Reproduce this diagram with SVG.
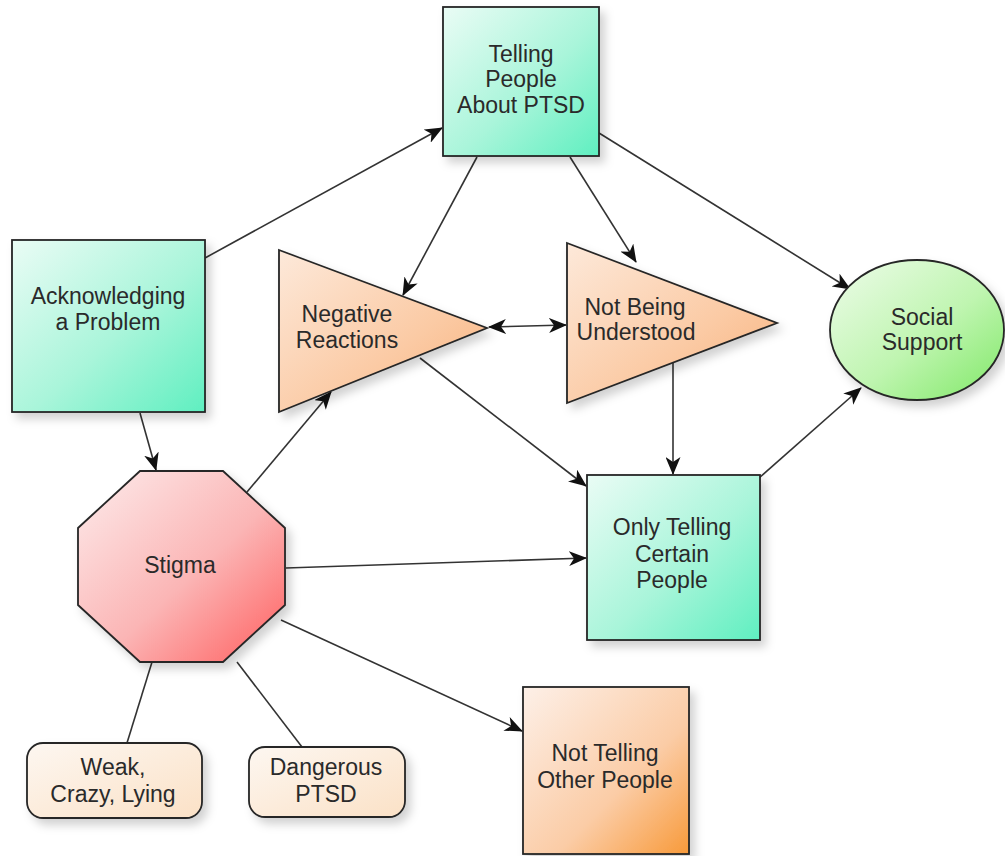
<svg xmlns="http://www.w3.org/2000/svg" width="1005" height="856" viewBox="0 0 1005 856">
  <style>
    .shape { stroke: #262626; stroke-width: 1.8; filter: url(#shadow); }
    .label { font-family: "Liberation Sans", Arial, sans-serif; font-size: 23px; fill: #2a2a2a; text-anchor: middle; }
    .edge { stroke: #333333; stroke-width: 1.6; fill: none; }
    .arrow { marker-end: url(#head); }
    .both { marker-start: url(#headStart); marker-end: url(#head); }
  </style>
  <defs>
    <filter id="shadow" x="-20%" y="-20%" width="150%" height="150%">
      <feDropShadow dx="5" dy="6" stdDeviation="5" flood-color="#000000" flood-opacity="0.18"/>
    </filter>
    <linearGradient id="teal" x1="0" y1="0" x2="1" y2="1">
      <stop offset="0" stop-color="#eafcf5"/>
      <stop offset="0.55" stop-color="#a9f5da"/>
      <stop offset="1" stop-color="#5fefc0"/>
    </linearGradient>
    <linearGradient id="peach" x1="0" y1="0" x2="1" y2="1">
      <stop offset="0" stop-color="#fde9da"/>
      <stop offset="0.6" stop-color="#fbcaa4"/>
      <stop offset="1" stop-color="#f7b07a"/>
    </linearGradient>
    <linearGradient id="rose" x1="0" y1="0" x2="1" y2="1">
      <stop offset="0" stop-color="#fdecec"/>
      <stop offset="0.55" stop-color="#fbb5b5"/>
      <stop offset="1" stop-color="#ff5e5e"/>
    </linearGradient>
    <linearGradient id="green" x1="0" y1="0" x2="1" y2="1">
      <stop offset="0" stop-color="#eefcea"/>
      <stop offset="0.55" stop-color="#bff5b0"/>
      <stop offset="1" stop-color="#7fe866"/>
    </linearGradient>
    <linearGradient id="orange" x1="0" y1="0" x2="1" y2="1">
      <stop offset="0" stop-color="#fdf0e8"/>
      <stop offset="0.6" stop-color="#fbcca6"/>
      <stop offset="1" stop-color="#f89a3a"/>
    </linearGradient>
    <linearGradient id="cream" x1="0" y1="0" x2="1" y2="1">
      <stop offset="0" stop-color="#fdf7f1"/>
      <stop offset="1" stop-color="#fbe1c6"/>
    </linearGradient>
    <marker id="head" viewBox="0 0 18 15" refX="17" refY="7.5" markerWidth="18" markerHeight="15" markerUnits="userSpaceOnUse" orient="auto">
      <path d="M0,0 L18,7.5 L0,15 L5,7.5 z" fill="#111111"/>
    </marker>
    <marker id="headStart" viewBox="0 0 18 15" refX="1" refY="7.5" markerWidth="18" markerHeight="15" markerUnits="userSpaceOnUse" orient="auto">
      <path d="M18,0 L0,7.5 L18,15 L13,7.5 z" fill="#111111"/>
    </marker>
  </defs>

  <rect width="1005" height="856" fill="#ffffff"/>

  <!-- connectors -->
  <g id="connectors">
    <line class="edge arrow" x1="205" y1="258" x2="442" y2="128"/>
    <line class="edge arrow" x1="477" y1="157" x2="403" y2="295"/>
    <line class="edge arrow" x1="570" y1="157" x2="636" y2="262"/>
    <line class="edge arrow" x1="599" y1="133" x2="850" y2="289"/>
    <line class="edge both" x1="489" y1="327" x2="566" y2="325"/>
    <line class="edge arrow" x1="420" y1="358" x2="586" y2="486"/>
    <line class="edge arrow" x1="673" y1="363" x2="673" y2="474"/>
    <line class="edge arrow" x1="247" y1="492" x2="331" y2="392"/>
    <line class="edge arrow" x1="286" y1="568" x2="586" y2="558"/>
    <line class="edge arrow" x1="281" y1="620" x2="522" y2="731"/>
    <line class="edge arrow" x1="759" y1="478" x2="861" y2="388"/>
    <line class="edge arrow" x1="140" y1="413" x2="156" y2="470"/>
    <line class="edge" x1="152" y1="662" x2="127" y2="743"/>
    <line class="edge" x1="237" y1="662" x2="302" y2="747"/>
  </g>

  <!-- nodes -->
  <g id="telling-people">
    <rect class="shape" x="443" y="7" width="156" height="149" fill="url(#teal)"/>
    <text class="label" x="521" y="62">Telling</text>
    <text class="label" x="521" y="87">People</text>
    <text class="label" x="521" y="113">About PTSD</text>
  </g>

  <g id="acknowledging">
    <rect class="shape" x="12" y="240" width="193" height="172" fill="url(#teal)"/>
    <text class="label" x="108" y="304">Acknowledging</text>
    <text class="label" x="108" y="330">a Problem</text>
  </g>

  <g id="negative-reactions">
    <polygon class="shape" points="279,250 487,328 279,412" fill="url(#peach)"/>
    <text class="label" x="347" y="322">Negative</text>
    <text class="label" x="347" y="348">Reactions</text>
  </g>

  <g id="not-being-understood">
    <polygon class="shape" points="567,243 777,323 567,403" fill="url(#peach)"/>
    <text class="label" x="635" y="315">Not Being</text>
    <text class="label" x="636" y="340">Understood</text>
  </g>

  <g id="social-support">
    <ellipse class="shape" cx="917" cy="330" rx="87" ry="70" fill="url(#green)"/>
    <text class="label" x="922" y="325">Social</text>
    <text class="label" x="922" y="350">Support</text>
  </g>

  <g id="stigma">
    <polygon class="shape" points="140,471 223,471 285,528 285,605 223,662 140,662 78,605 78,528" fill="url(#rose)"/>
    <text class="label" x="180" y="573" fill="#3a2a2a">Stigma</text>
  </g>

  <g id="only-telling">
    <rect class="shape" x="587" y="475" width="173" height="165" fill="url(#teal)"/>
    <text class="label" x="672" y="535">Only Telling</text>
    <text class="label" x="672" y="562">Certain</text>
    <text class="label" x="672" y="588">People</text>
  </g>

  <g id="not-telling">
    <rect class="shape" x="523" y="687" width="166" height="167" fill="url(#orange)"/>
    <text class="label" x="605" y="761" fill="#3a2a2a">Not Telling</text>
    <text class="label" x="605" y="788" fill="#3a2a2a">Other People</text>
  </g>

  <g id="weak-crazy-lying">
    <rect class="shape" x="27" y="743" width="175" height="75" rx="16" ry="16" fill="url(#cream)"/>
    <text class="label" x="113" y="775">Weak,</text>
    <text class="label" x="113" y="802">Crazy, Lying</text>
  </g>

  <g id="dangerous-ptsd">
    <rect class="shape" x="249" y="747" width="156" height="70" rx="16" ry="16" fill="url(#cream)"/>
    <text class="label" x="326" y="775">Dangerous</text>
    <text class="label" x="326" y="802">PTSD</text>
  </g>
</svg>
